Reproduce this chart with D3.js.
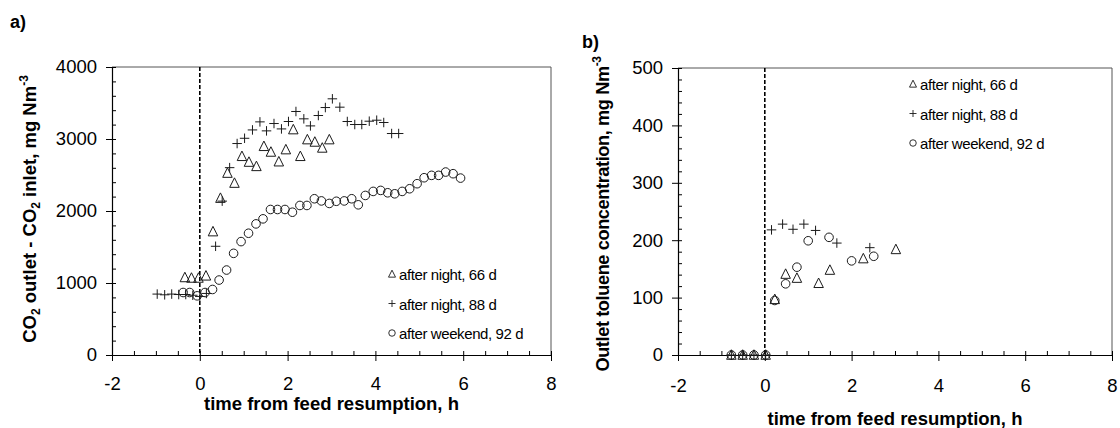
<!DOCTYPE html>
<html>
<head>
<meta charset="utf-8">
<script src="https://cdn.jsdelivr.net/npm/d3@7"></script>
<style>
  body { margin: 0; background: #fff; }
  svg { display: block; font-family: "Liberation Sans", Arial, sans-serif; }
  .domain, .tick line { stroke: #000; }
</style>
</head>
<body>
<div id="vis"></div>
<script>
// ---- data: panel a) CO2 difference, mg Nm-3 ----
const co2Night66H = [-0.34, -0.19, -0.03, 0.14, 0.30, 0.47, 0.63, 0.79, 0.96, 1.12, 1.29, 1.46, 1.62, 1.80, 1.96, 2.13, 2.29, 2.45, 2.62, 2.79, 2.95];
const co2Night66V = [1077, 1070, 1070, 1100, 1714, 2179, 2527, 2388, 2760, 2680, 2620, 2899, 2820, 2685, 2853, 3131, 2760, 2992, 2959, 2876, 2992];

const co2Night88H = [-0.97, -0.80, -0.64, -0.48, -0.32, -0.16, 0, 0.15, 0.36, 0.51, 0.68, 0.85, 1.02, 1.20, 1.37, 1.52, 1.69, 1.86, 2.02, 2.19, 2.37, 2.52, 2.70, 2.86, 3.02, 3.19, 3.36, 3.53, 3.69, 3.86, 4.03, 4.19, 4.37, 4.53];
const co2Night88V = [846, 836, 846, 840, 840, 830, 813, 855, 1510, 2137, 2602, 2937, 3010, 3126, 3238, 3113, 3215, 3140, 3243, 3382, 3280, 3182, 3326, 3437, 3558, 3442, 3243, 3201, 3201, 3247, 3261, 3229, 3076, 3076];

const co2Weekend92H = [-0.38, -0.23, -0.06, 0.12, 0.29, 0.44, 0.61, 0.77, 0.94, 1.11, 1.28, 1.44, 1.61, 1.77, 1.94, 2.11, 2.28, 2.44, 2.61, 2.77, 2.95, 3.11, 3.29, 3.46, 3.61, 3.77, 3.95, 4.12, 4.28, 4.44, 4.61, 4.78, 4.95, 5.11, 5.28, 5.44, 5.60, 5.77, 5.94];
const co2Weekend92V = [868, 868, 822, 868, 910, 1041, 1180, 1412, 1575, 1691, 1821, 1891, 2021, 2021, 2021, 1983, 2077, 2077, 2170, 2140, 2105, 2135, 2140, 2170, 2086, 2216, 2272, 2286, 2253, 2239, 2272, 2309, 2379, 2462, 2495, 2495, 2541, 2518, 2457];

// ---- data: panel b) outlet toluene, mg Nm-3 ----
const tolNight66H = [-0.77, -0.51, -0.25, 0.02, 0.23, 0.48, 0.74, 1.24, 1.50, 2.27, 3.02];
const tolNight66V = [0, 0, 0, 0, 97, 141, 134, 125, 148, 168, 184];

const tolNight88H = [-0.77, -0.51, -0.25, 0.02, 0.155, 0.41, 0.65, 0.90, 1.17, 1.66, 2.42];
const tolNight88V = [0, 0, 0, 0, 218, 228, 219, 228, 217, 195, 187];

const tolWeekend92H = [-0.77, -0.51, -0.25, 0.02, 0.23, 0.48, 0.74, 1.00, 1.48, 2.00, 2.51];
const tolWeekend92V = [0, 0, 0, 0, 95, 124, 153, 199, 205, 164, 172];

const legendLabels = ["after night, 66 d", "after night, 88 d", "after weekend, 92 d"];
const xTicks = [-2, 0, 2, 4, 6, 8];
const co2Ticks = [0, 1000, 2000, 3000, 4000];
const tolTicks = [0, 100, 200, 300, 400, 500];

const svg = d3.select('#vis').append('svg')
  .attr('width', 1120)
  .attr('height', 428);

const ink = '#1a1a1a';
const plain = d => (d < 0 ? '-' : '') + Math.abs(d);

// marker shapes
const shapes = {
  tri: s => `M0,${-s * 0.55}L${s * 0.5},${s * 0.45}L${-s * 0.5},${s * 0.45}Z`,
  plus: s => `M${-s / 2},0H${s / 2}M0,${-s / 2}V${s / 2}`,
  circ: s => d3.symbol(d3.symbolCircle, Math.PI * (s / 2) * (s / 2))()
};

function zip(hs, vs) { return hs.map((h, i) => ({ h: h, v: vs[i] })); }

function drawPanel(opt) {
  const g = svg.append('g').attr('transform', `translate(${opt.left},${opt.top})`);
  const w = opt.width, h = opt.height;

  const x = d3.scaleLinear().domain([-2, 8]).range([0, w]);
  const y = d3.scaleLinear().domain(opt.yDomain).range([h, 0]);

  // frame (top + right)
  g.append('path')
    .attr('d', `M0,0H${w}V${h}`)
    .attr('fill', 'none')
    .attr('stroke', '#555')
    .attr('stroke-width', 1);

  // minor ticks, pointing inward
  g.append('g')
    .call(d3.axisRight(y).tickValues(opt.yMinor).tickSize(4).tickFormat('').tickSizeOuter(0))
    .call(a => a.select('.domain').remove());
  g.append('g')
    .attr('transform', `translate(0,${h})`)
    .call(d3.axisTop(x).tickValues(d3.range(-2, 8.01, 0.5)).tickSize(4).tickFormat('').tickSizeOuter(0))
    .call(a => a.select('.domain').remove());

  // major axes
  g.append('g')
    .call(d3.axisLeft(y).tickValues(opt.yTicks).tickFormat(plain).tickSize(6).tickPadding(9).tickSizeOuter(0));
  g.append('g')
    .attr('transform', `translate(0,${h})`)
    .call(d3.axisBottom(x).tickValues(xTicks).tickFormat(plain).tickSize(6).tickPadding(opt.xPad).tickSizeOuter(0));

  g.selectAll('.domain').attr('stroke-width', 1.2);
  g.selectAll('.tick text')
    .attr('font-size', 18.5)
    .attr('font-family', '"Liberation Sans", Arial, sans-serif')
    .attr('fill', '#000');

  // dashed line at feed resumption
  g.append('line')
    .attr('x1', x(0)).attr('x2', x(0))
    .attr('y1', 0).attr('y2', h)
    .attr('stroke', '#000')
    .attr('stroke-width', 1.6)
    .attr('stroke-dasharray', '4,2');

  // series
  opt.series.forEach(s => {
    g.append('g').selectAll('path')
      .data(s.data)
      .join('path')
      .attr('transform', d => `translate(${x(d.h)},${y(d.v)})`)
      .attr('d', shapes[s.shape](s.shape === 'circ' ? 8.6 : 9.5))
      .attr('fill', 'none')
      .attr('stroke', ink)
      .attr('stroke-width', 1);
  });

  // legend
  const lg = g.append('g').attr('transform', `translate(${opt.legend[0]},${opt.legend[1]})`);
  opt.series.forEach((s, i) => {
    const row = lg.append('g').attr('transform', `translate(0,${i * 29.5})`);
    row.append('path')
      .attr('transform', 'translate(0,-1)')
      .attr('d', shapes[s.shape](s.shape === 'circ' ? 6.5 : 7))
      .attr('fill', 'none')
      .attr('stroke', ink)
      .attr('stroke-width', 0.9);
    row.append('text')
      .attr('x', 7)
      .attr('y', 5)
      .attr('font-size', 15)
      .attr('letter-spacing', -0.4)
      .text(legendLabels[i]);
  });

  // x title
  svg.append('text')
    .attr('x', opt.left + w / 2)
    .attr('y', opt.xTitleY)
    .attr('text-anchor', 'middle')
    .attr('font-size', 18.5)
    .attr('font-weight', 'bold')
    .text('time from feed resumption, h');

  return g;
}

drawPanel({
  left: 112, top: 67, width: 439, height: 288,
  yDomain: [0, 4000], yTicks: co2Ticks, yMinor: d3.range(0, 4001, 200),
  xPad: 16, xTitleY: 410,
  legend: [280, 208],
  series: [
    { shape: 'tri', data: zip(co2Night66H, co2Night66V) },
    { shape: 'plus', data: zip(co2Night88H, co2Night88V) },
    { shape: 'circ', data: zip(co2Weekend92H, co2Weekend92V) }
  ]
});

drawPanel({
  left: 678, top: 68, width: 434, height: 287,
  yDomain: [0, 500], yTicks: tolTicks, yMinor: d3.range(0, 501, 20),
  xPad: 18, xTitleY: 425,
  legend: [235, 17],
  series: [
    { shape: 'tri', data: zip(tolNight66H, tolNight66V) },
    { shape: 'plus', data: zip(tolNight88H, tolNight88V) },
    { shape: 'circ', data: zip(tolWeekend92H, tolWeekend92V) }
  ]
});

// panel letters
svg.append('text').attr('x', 10).attr('y', 28)
  .attr('font-size', 18).attr('font-weight', 'bold').text('a)');
svg.append('text').attr('x', 582).attr('y', 48)
  .attr('font-size', 18).attr('font-weight', 'bold').text('b)');

// y titles
const yA = svg.append('text')
  .attr('transform', 'translate(36,209) rotate(-90)')
  .attr('text-anchor', 'middle')
  .attr('font-size', 18.5)
  .attr('font-weight', 'bold');
yA.append('tspan').text('CO');
yA.append('tspan').attr('font-size', 12).attr('dy', 4).text('2');
yA.append('tspan').attr('dy', -4).text(' outlet - CO');
yA.append('tspan').attr('font-size', 12).attr('dy', 4).text('2');
yA.append('tspan').attr('dy', -4).text(' inlet, mg Nm');
yA.append('tspan').attr('font-size', 12).attr('dy', -8).text('-3');

const yB = svg.append('text')
  .attr('transform', 'translate(609,214) rotate(-90)')
  .attr('text-anchor', 'middle')
  .attr('font-size', 18.2)
  .attr('font-weight', 'bold')
  .attr('letter-spacing', -0.4);
yB.append('tspan').text('Outlet toluene concentration,  mg Nm');
yB.append('tspan').attr('font-size', 12).attr('dy', -8).text('-3');
</script>
</body>
</html>
